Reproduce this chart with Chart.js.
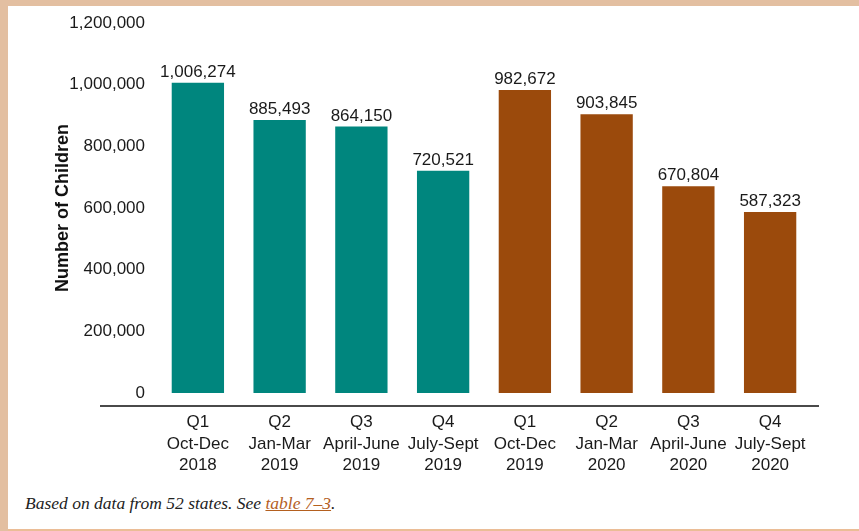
<!DOCTYPE html>
<html>
<head>
<meta charset="utf-8">
<script src="https://cdn.jsdelivr.net/npm/chart.js@4"></script>
<style>
  body { margin: 0; background: #fff; }
  .frame { position: relative; width: 859px; height: 531px; overflow: hidden; background: #fff; }
  .top-band { position: absolute; left: 0; top: 0; width: 859px; height: 6px; background: #e3bfa1; }
  .left-band { position: absolute; left: 0; top: 0; width: 8px; height: 531px; background: #e3bfa1; }
  .bottom-line { position: absolute; left: 8px; top: 529px; width: 851px; height: 2px; background: #ebbd96; }
  #myChart { position: absolute; left: 0; top: 0; }
  .note { position: absolute; left: 25px; top: 493px; font-family: "Liberation Serif", "DejaVu Serif", serif;
          font-style: italic; font-size: 17.5px; color: #222; white-space: nowrap; }
  .note a { color: #b4601f; text-decoration: underline; }
</style>
</head>
<body>
<div class="frame">
  <div class="top-band"></div>
  <div class="left-band"></div>
  <div class="bottom-line"></div>
  <canvas id="myChart" width="859" height="480"></canvas>
  <div class="note">Based on data from 52 states. See <a href="#">table 7–3</a>.</div>
</div>
<script>
let quarters = ['Q1', 'Q2', 'Q3', 'Q4', 'Q1', 'Q2', 'Q3', 'Q4']
let months = ['Oct-Dec', 'Jan-Mar', 'April-June', 'July-Sept', 'Oct-Dec', 'Jan-Mar', 'April-June', 'July-Sept']
let years = ['2018', '2019', '2019', '2019', '2019', '2020', '2020', '2020']
let children = [1006274, 885493, 864150, 720521, 982672, 903845, 670804, 587323]
let y_ticks = [0, 200000, 400000, 600000, 800000, 1000000, 1200000]

let teal = 'rgb(0, 134, 126)'
let brown = 'rgb(155, 74, 12)'
let bar_colors = years.map((y, i) => i < 4 ? teal : brown)

let labels = quarters.map((q, i) => [q, months[i], years[i]])
let fmt = v => v.toLocaleString('en-US')
let font_family = "'Liberation Sans', Arial, sans-serif"

const valueLabels = {
    id: 'valueLabels',
    afterDatasetsDraw: (chart) => {
        const {ctx} = chart
        let meta = chart.getDatasetMeta(0)
        ctx.save()
        ctx.font = '17px ' + font_family
        ctx.fillStyle = '#1a1a1a'
        ctx.textAlign = 'center'
        ctx.textBaseline = 'alphabetic'
        meta.data.forEach((bar, i) => {
            ctx.fillText(fmt(children[i]), bar.x, bar.y - 6)
        })
        ctx.restore()
    }
}

// baseline drawn a bit below zero and wider than the plot, like the original
const baseLine = {
    id: 'baseLine',
    afterDraw: (chart) => {
        const {ctx, chartArea} = chart
        let y = chart.scales.y.getPixelForValue(0) + 13
        ctx.save()
        ctx.strokeStyle = '#4a4a4a'
        ctx.lineWidth = 2
        ctx.beginPath()
        ctx.moveTo(chartArea.left - 57, y)
        ctx.lineTo(chartArea.right + 8, y)
        ctx.stroke()
        ctx.restore()
    }
}

const ctx = document.getElementById('myChart')

new Chart(ctx, {
    type: 'bar',
    data: {
        labels: labels,
        datasets: [{
            label: 'Number of Children',
            data: children,
            backgroundColor: bar_colors,
            borderWidth: 0,
            categoryPercentage: 0.8,
            barPercentage: 0.8
        }]
    },
    options: {
        responsive: false,
        animation: false,
        layout: { padding: { top: 23, right: 48, left: 0, bottom: 0 } },
        plugins: {
            legend: { display: false },
            tooltip: { enabled: false }
        },
        scales: {
            x: {
                grid: { display: false },
                border: { display: false },
                ticks: {
                    color: '#1a1a1a',
                    font: { family: font_family, size: 17, lineHeight: 1.25 },
                    padding: 11,
                    maxRotation: 0,
                    autoSkip: false
                },
                afterFit: (scale) => { scale.height = 87 }
            },
            y: {
                min: 0,
                max: 1200000,
                grid: { display: false },
                border: { display: false },
                afterBuildTicks: (scale) => { scale.ticks = y_ticks.map(v => ({ value: v })) },
                ticks: {
                    color: '#1a1a1a',
                    font: { family: font_family, size: 17 },
                    padding: 4,
                    callback: v => fmt(v)
                },
                title: {
                    display: true,
                    text: 'Number of Children',
                    color: '#111',
                    font: { family: font_family, size: 18, weight: 'bold' },
                    padding: { top: 52, bottom: 0 }
                },
                afterFit: (scale) => { scale.width = 157 }
            }
        }
    },
    plugins: [valueLabels, baseLine]
})
</script>
</body>
</html>
